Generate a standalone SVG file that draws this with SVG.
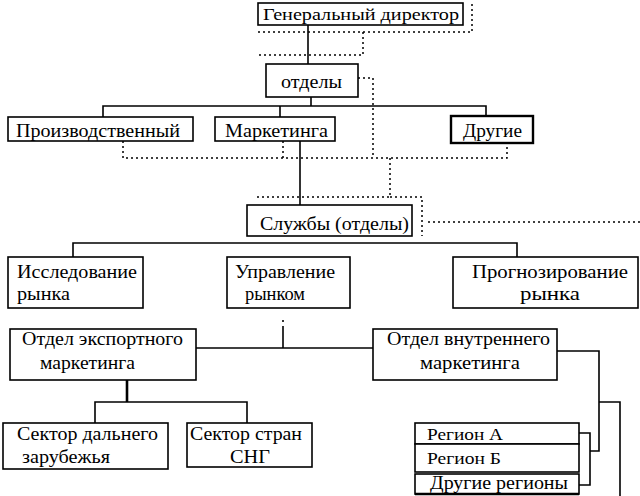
<svg xmlns="http://www.w3.org/2000/svg" width="640" height="496" viewBox="0 0 640 496">
<style>
.box{fill:#fff;stroke:#000;stroke-width:1.6}
.thick{stroke-width:2.4}
.t{font-family:"Liberation Serif","Times New Roman",serif;font-size:17px;fill:#000}
.big{font-size:19px}
.ln{fill:none;stroke:#000;stroke-width:1.6}
.dot{fill:none;stroke:#000;stroke-width:1.5;stroke-dasharray:2 3}
</style>
<rect width="640" height="496" fill="#fff"/>
<g id="connectors">
<path class="dot" d="M472 4 V32 H255"/>
<path class="dot" d="M363 32 V55 H258"/>
<path class="dot" d="M358 78 H373 V157"/>
<path class="dot" d="M123 141 V158 H507 V143"/>
<path class="dot" d="M283 141 V158"/>
<path class="dot" d="M390 158 V197 H255"/>
<path class="dot" d="M390 197 H422 V236"/>
<path class="dot" d="M428 222 H640"/>
<path class="ln" d="M308 25 V64"/>
<path class="ln" d="M311 97 V106"/>
<path class="ln" d="M103 117 V106 H486 V117"/>
<path class="ln" d="M280 106 V117"/>
<path class="ln" d="M300 141 V205"/>
<path class="ln" d="M73 257 V243 H517 V257"/>
<path class="ln" d="M283 320 V322"/>
<path class="ln" d="M283 326 V348"/>
<path class="ln" d="M196 348 H373"/>
<path class="ln" d="M127 380 V402" style="stroke-width:2.6"/>
<path class="ln" d="M95 423 V402 H247 V423"/>
<path class="ln" d="M557 351 H599 V451 H590"/>
<path class="ln" d="M579 433 H590 V485 H579"/>
<path class="ln" d="M599 402 H620 V496"/>
</g>
<g id="gendir">
<rect class="box" x="258" y="3" width="205" height="22"/>
<text class="t" x="263" y="20" textLength="196" lengthAdjust="spacingAndGlyphs">Генеральный директор</text>
</g>
<g id="otdely">
<rect class="box" x="266" y="64" width="92" height="33"/>
<text class="t big" x="281" y="88" textLength="61" lengthAdjust="spacingAndGlyphs">отделы</text>
</g>
<g id="proizv">
<rect class="box" x="8" y="117" width="185" height="24"/>
<text class="t big" x="16" y="137" textLength="164" lengthAdjust="spacingAndGlyphs">Производственный</text>
</g>
<g id="marketing">
<rect class="box" x="215" y="117" width="120" height="24"/>
<text class="t big" x="225" y="137" textLength="103" lengthAdjust="spacingAndGlyphs">Маркетинга</text>
</g>
<g id="drugie">
<rect class="box thick" x="451" y="116" width="82" height="27"/>
<text class="t big" x="463" y="137" textLength="59" lengthAdjust="spacingAndGlyphs">Другие</text>
</g>
<g id="sluzhby">
<rect class="box" x="247" y="205" width="165" height="31"/>
<text class="t big" x="260" y="230" textLength="149" lengthAdjust="spacingAndGlyphs">Службы (отделы)</text>
</g>
<g id="issled">
<rect class="box" x="8" y="257" width="135" height="51"/>
<text class="t big" x="17" y="278" textLength="120" lengthAdjust="spacingAndGlyphs">Исследование</text>
<text class="t big" x="17" y="300" textLength="53" lengthAdjust="spacingAndGlyphs">рынка</text>
</g>
<g id="upravl">
<rect class="box" x="227" y="257" width="123" height="51"/>
<text class="t big" x="235" y="278" textLength="100" lengthAdjust="spacingAndGlyphs">Управление</text>
<text class="t big" x="245" y="300" textLength="60" lengthAdjust="spacingAndGlyphs">рынком</text>
</g>
<g id="prognoz">
<rect class="box" x="453" y="257" width="185" height="51"/>
<text class="t big" x="472" y="278" textLength="156" lengthAdjust="spacingAndGlyphs">Прогнозирование</text>
<text class="t big" x="520" y="300" textLength="60" lengthAdjust="spacingAndGlyphs">рынка</text>
</g>
<g id="export">
<rect class="box" x="10" y="329" width="186" height="51"/>
<text class="t big" x="22" y="345" textLength="161" lengthAdjust="spacingAndGlyphs">Отдел экспортного</text>
<text class="t big" x="40" y="369" textLength="95" lengthAdjust="spacingAndGlyphs">маркетинга</text>
</g>
<g id="vnutr">
<rect class="box" x="373" y="329" width="184" height="51"/>
<text class="t big" x="387" y="345" textLength="163" lengthAdjust="spacingAndGlyphs">Отдел внутреннего</text>
<text class="t big" x="420" y="369" textLength="100" lengthAdjust="spacingAndGlyphs">маркетинга</text>
</g>
<g id="dalnee">
<rect class="box" x="3" y="423" width="165" height="46"/>
<text class="t big" x="17" y="440" textLength="141" lengthAdjust="spacingAndGlyphs">Сектор дальнего</text>
<text class="t big" x="22" y="463" textLength="88" lengthAdjust="spacingAndGlyphs">зарубежья</text>
</g>
<g id="sng">
<rect class="box" x="187" y="423" width="125" height="44"/>
<text class="t big" x="190" y="440" textLength="112" lengthAdjust="spacingAndGlyphs">Сектор стран</text>
<text class="t big" x="230" y="463" textLength="40" lengthAdjust="spacingAndGlyphs">СНГ</text>
</g>
<g id="regionA">
<rect class="box" x="415" y="423" width="164" height="21"/>
<text class="t" x="427" y="440" textLength="76" lengthAdjust="spacingAndGlyphs">Регион А</text>
</g>
<g id="regionB">
<rect class="box" x="415" y="444" width="164" height="28"/>
<text class="t" x="427" y="464" textLength="74" lengthAdjust="spacingAndGlyphs">Регион Б</text>
</g>
<g id="regionOther">
<rect class="box" x="415" y="474" width="164" height="20"/>
<line x1="415" y1="494" x2="579" y2="494" stroke="#000" stroke-width="2.6"/>
<text class="t big" x="430" y="489" textLength="138" lengthAdjust="spacingAndGlyphs">Другие регионы</text>
</g>
</svg>
